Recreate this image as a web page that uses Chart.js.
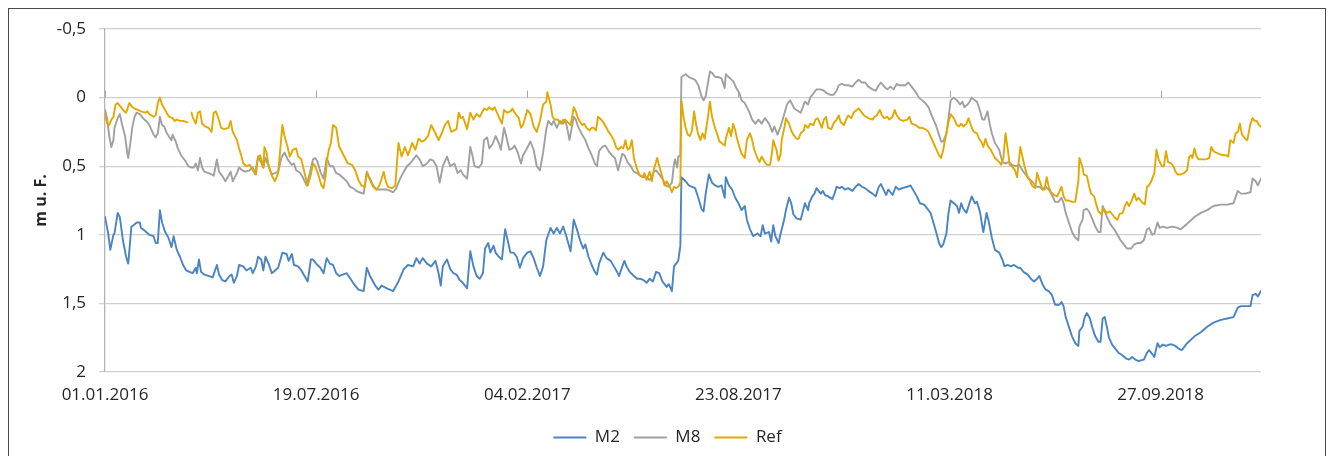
<!DOCTYPE html>
<html>
<head>
<meta charset="utf-8">
<script src="https://cdn.jsdelivr.net/npm/chart.js@4"></script>
<style>
  html, body { margin: 0; padding: 0; background: #fff; }
  #wrap { position: relative; width: 1329px; height: 456px; overflow: hidden; }
  #frame { position: absolute; left: 8px; top: 8px; width: 1316px; height: 470px; border: 1px solid #4a4a4a; pointer-events: none; }
  canvas { position: absolute; left: 0; top: 0; }
</style>
</head>
<body>
<div id="wrap">
  <canvas id="chart" width="1329" height="456"></canvas>
  <div id="frame"></div>
</div>
<script>
// x = days since 01.01.2016, y = value (m u. F.)
const tickDays = [0, 200, 400, 600, 800, 1000];
const tickLabels = ["01.01.2016", "19.07.2016", "04.02.2017", "23.08.2017", "11.03.2018", "27.09.2018"];
const yTicks = [-0.5, 0, 0.5, 1, 1.5, 2];

const m2Series = [
  [0,0.87],[3,0.99],[5,1.11],[8,1.00],[9,0.99],[12,0.84],[14,0.87],[17,1.04],[20,1.16],[22,1.21],
  [25,0.94],[27,0.93],[30,0.91],[33,0.91],[34,0.95],[36,0.96],[39,0.98],[42,1.00],[46,1.01],[48,1.06],
  [50,1.06],[52,0.82],[54,0.91],[57,0.98],[60,1.02],[63,1.09],[65,1.01],[68,1.11],[71,1.16],[74,1.22],
  [77,1.26],[80,1.27],[83,1.28],[86,1.24],[87,1.28],[89,1.18],[91,1.27],[94,1.29],[98,1.30],[102,1.31],
  [106,1.22],[108,1.29],[111,1.33],[114,1.34],[118,1.30],[120,1.29],[122,1.35],[125,1.30],[127,1.22],[131,1.23],
  [134,1.26],[138,1.24],[140,1.28],[143,1.23],[145,1.16],[148,1.18],[150,1.26],[152,1.16],[155,1.21],[158,1.28],
  [161,1.26],[164,1.24],[168,1.13],[172,1.14],[174,1.19],[177,1.14],[179,1.22],[183,1.23],[186,1.26],[189,1.30],
  [192,1.34],[195,1.18],[197,1.18],[200,1.21],[204,1.24],[207,1.28],[210,1.17],[213,1.21],[216,1.22],[219,1.28],
  [222,1.30],[229,1.28],[235,1.35],[240,1.40],[245,1.41],[248,1.24],[251,1.30],[256,1.37],[259,1.40],[262,1.37],
  [267,1.39],[273,1.41],[278,1.34],[283,1.25],[287,1.22],[292,1.23],[295,1.17],[298,1.21],[301,1.17],[305,1.21],
  [309,1.23],[313,1.19],[316,1.28],[318,1.37],[320,1.23],[324,1.18],[327,1.25],[330,1.28],[333,1.29],[336,1.33],
  [339,1.35],[343,1.39],[346,1.12],[349,1.23],[352,1.30],[355,1.32],[358,1.28],[360,1.10],[363,1.06],[365,1.13],
  [368,1.08],[370,1.13],[373,1.16],[376,1.18],[379,0.96],[382,1.06],[384,1.13],[387,1.13],[390,1.16],[393,1.24],
  [396,1.17],[400,1.13],[403,1.12],[406,1.17],[409,1.24],[412,1.30],[415,1.23],[418,1.04],[422,0.95],[425,0.99],
  [428,0.95],[431,0.99],[434,0.94],[437,1.01],[441,1.12],[444,0.89],[447,0.96],[450,1.04],[453,1.10],[455,1.07],
  [458,1.16],[461,1.22],[464,1.27],[466,1.29],[468,1.21],[472,1.13],[475,1.17],[479,1.19],[482,1.23],[485,1.27],
  [487,1.30],[490,1.23],[492,1.19],[494,1.23],[497,1.27],[501,1.30],[504,1.32],[507,1.32],[510,1.33],[513,1.35],
  [516,1.32],[519,1.34],[522,1.27],[525,1.28],[528,1.34],[532,1.38],[534,1.36],[537,1.41],[539,1.23],[541,1.21],
  [543,1.19],[545,1.08],[546,0.58],[550,0.61],[553,0.64],[556,0.65],[559,0.66],[562,0.73],[565,0.81],[567,0.83],
  [569,0.70],[572,0.56],[575,0.62],[578,0.64],[581,0.65],[584,0.64],[587,0.73],[588,0.58],[591,0.64],[594,0.67],
  [597,0.73],[600,0.77],[603,0.82],[606,0.79],[608,0.89],[611,0.96],[614,1.01],[618,0.99],[621,1.01],[623,0.93],
  [625,0.99],[629,0.98],[631,1.05],[633,0.93],[635,1.01],[638,1.06],[640,0.99],[643,0.90],[645,0.82],[648,0.73],
  [650,0.77],[652,0.85],[655,0.88],[659,0.89],[661,0.83],[663,0.77],[666,0.82],[667,0.77],[670,0.72],[672,0.70],
  [674,0.66],[678,0.70],[680,0.68],[682,0.71],[685,0.72],[689,0.74],[691,0.70],[693,0.65],[696,0.66],[698,0.65],
  [701,0.67],[704,0.66],[708,0.68],[711,0.65],[714,0.63],[717,0.65],[720,0.66],[723,0.68],[727,0.70],[730,0.72],
  [733,0.65],[735,0.63],[738,0.68],[740,0.71],[742,0.67],[746,0.71],[749,0.65],[752,0.67],[755,0.66],[760,0.65],
  [763,0.64],[766,0.68],[769,0.72],[772,0.77],[776,0.78],[779,0.81],[782,0.84],[785,0.92],[788,1.00],[790,1.06],
  [792,1.09],[794,1.07],[797,0.99],[799,0.84],[801,0.75],[804,0.77],[807,0.79],[809,0.84],[811,0.77],[813,0.81],
  [816,0.84],[818,0.79],[821,0.72],[824,0.77],[826,0.76],[829,0.84],[831,0.94],[832,0.98],[835,0.84],[837,0.90],
  [840,1.02],[843,1.11],[847,1.13],[850,1.18],[852,1.23],[855,1.22],[858,1.23],[861,1.22],[865,1.24],[867,1.24],
  [870,1.27],[874,1.29],[877,1.32],[880,1.34],[883,1.32],[885,1.30],[888,1.36],[891,1.40],[894,1.41],[897,1.44],
  [900,1.51],[904,1.51],[906,1.49],[908,1.52],[910,1.60],[913,1.67],[916,1.74],[919,1.79],[922,1.81],[923,1.70],
  [926,1.67],[928,1.60],[930,1.57],[933,1.61],[935,1.67],[938,1.74],[941,1.78],[943,1.78],[945,1.61],[947,1.60],
  [949,1.67],[951,1.75],[954,1.80],[957,1.83],[960,1.86],[964,1.88],[967,1.90],[970,1.91],[973,1.89],[976,1.91],
  [979,1.92],[984,1.91],[987,1.86],[989,1.84],[992,1.87],[994,1.89],[997,1.79],[999,1.82],[1002,1.80],[1005,1.81],
  [1008,1.80],[1011,1.80],[1014,1.81],[1017,1.83],[1020,1.84],[1025,1.79],[1032,1.74],[1038,1.71],[1044,1.67],[1050,1.64],
  [1057,1.62],[1063,1.61],[1069,1.60],[1073,1.53],[1076,1.52],[1080,1.52],[1085,1.52],[1087,1.44],[1090,1.43],[1092,1.45],
  [1095,1.41]
];

const m8Series = [
  [0,0.09],[2,0.15],[4,0.28],[6,0.36],[8,0.31],[9,0.22],[12,0.15],[14,0.12],[16,0.19],[19,0.28],
  [21,0.40],[22,0.44],[24,0.33],[26,0.21],[28,0.14],[30,0.11],[33,0.12],[36,0.15],[39,0.17],[42,0.20],
  [46,0.27],[48,0.29],[50,0.26],[52,0.14],[54,0.20],[56,0.21],[58,0.25],[61,0.29],[63,0.31],[64,0.27],
  [67,0.32],[69,0.37],[72,0.42],[76,0.46],[79,0.50],[82,0.51],[84,0.51],[86,0.48],[88,0.53],[90,0.44],
  [92,0.51],[94,0.54],[98,0.55],[101,0.56],[103,0.57],[106,0.45],[108,0.54],[111,0.57],[114,0.61],[117,0.57],
  [119,0.54],[121,0.61],[125,0.55],[127,0.51],[130,0.53],[133,0.54],[137,0.53],[140,0.51],[142,0.56],[145,0.43],
  [147,0.46],[150,0.51],[152,0.44],[155,0.50],[158,0.56],[161,0.55],[164,0.54],[167,0.44],[170,0.40],[173,0.45],
  [177,0.49],[179,0.48],[181,0.53],[185,0.55],[188,0.59],[191,0.64],[194,0.55],[197,0.45],[199,0.44],[201,0.46],
  [204,0.54],[207,0.59],[208,0.54],[210,0.44],[213,0.50],[216,0.50],[219,0.55],[222,0.56],[229,0.61],[232,0.65],
  [235,0.66],[238,0.68],[241,0.69],[245,0.70],[248,0.54],[251,0.59],[254,0.64],[257,0.67],[260,0.67],[263,0.67],
  [267,0.67],[270,0.68],[273,0.69],[276,0.66],[279,0.60],[283,0.54],[286,0.50],[289,0.48],[292,0.45],[295,0.42],
  [298,0.45],[301,0.50],[305,0.48],[308,0.45],[311,0.46],[314,0.50],[317,0.62],[320,0.50],[324,0.43],[327,0.50],
  [331,0.48],[334,0.55],[337,0.53],[339,0.56],[343,0.59],[346,0.36],[348,0.42],[350,0.50],[354,0.51],[357,0.48],
  [359,0.31],[362,0.29],[364,0.37],[367,0.34],[370,0.28],[373,0.33],[375,0.38],[378,0.22],[380,0.28],[383,0.38],
  [386,0.37],[388,0.35],[391,0.40],[394,0.48],[396,0.42],[399,0.38],[403,0.32],[406,0.38],[409,0.50],[412,0.53],
  [415,0.40],[418,0.23],[420,0.17],[423,0.20],[425,0.17],[428,0.22],[431,0.17],[434,0.19],[436,0.16],[438,0.23],
  [440,0.31],[444,0.14],[446,0.16],[448,0.21],[452,0.27],[455,0.31],[458,0.37],[461,0.42],[464,0.48],[466,0.50],
  [468,0.39],[471,0.36],[474,0.35],[477,0.39],[480,0.42],[483,0.44],[486,0.53],[490,0.41],[492,0.42],[495,0.47],
  [498,0.50],[501,0.54],[504,0.55],[507,0.57],[510,0.58],[513,0.58],[516,0.60],[520,0.54],[522,0.53],[524,0.55],
  [528,0.59],[531,0.64],[534,0.65],[537,0.62],[539,0.48],[540,0.45],[542,0.51],[543,0.43],[545,0.42],[546,-0.15],
  [550,-0.17],[553,-0.15],[556,-0.14],[559,-0.13],[562,-0.09],[565,-0.01],[567,0.02],[569,-0.01],[571,-0.10],[573,-0.19],
  [575,-0.18],[578,-0.15],[581,-0.15],[584,-0.14],[587,-0.07],[588,-0.17],[592,-0.14],[595,-0.12],[598,-0.07],[601,-0.03],
  [603,0.02],[606,0.04],[610,0.10],[613,0.16],[616,0.19],[619,0.16],[622,0.19],[625,0.15],[629,0.19],[632,0.25],
  [634,0.21],[637,0.27],[640,0.21],[643,0.13],[646,0.05],[649,0.02],[651,0.05],[653,0.08],[655,0.09],[659,0.11],
  [661,0.07],[663,0.03],[666,0.05],[668,0.00],[671,-0.03],[674,-0.06],[678,-0.06],[681,-0.05],[684,-0.03],[687,-0.02],
  [690,-0.02],[693,-0.05],[695,-0.09],[698,-0.10],[701,-0.09],[704,-0.09],[708,-0.08],[711,-0.11],[714,-0.13],[717,-0.11],
  [720,-0.11],[723,-0.08],[727,-0.06],[730,-0.05],[733,-0.09],[735,-0.11],[738,-0.08],[741,-0.06],[744,-0.08],[747,-0.06],
  [750,-0.10],[752,-0.09],[755,-0.09],[758,-0.09],[761,-0.11],[764,-0.08],[768,-0.04],[771,0.00],[774,0.02],[777,0.04],
  [780,0.07],[783,0.13],[787,0.20],[790,0.27],[792,0.32],[794,0.32],[797,0.26],[799,0.15],[801,0.02],[804,0.00],
  [807,0.02],[810,0.05],[812,0.03],[814,0.07],[817,0.05],[819,0.03],[821,0.00],[824,0.02],[826,0.03],[829,0.10],
  [831,0.16],[833,0.16],[836,0.10],[838,0.19],[840,0.26],[843,0.33],[847,0.38],[850,0.47],[853,0.48],[856,0.47],
  [859,0.49],[863,0.50],[866,0.49],[869,0.53],[872,0.56],[875,0.59],[878,0.61],[882,0.65],[885,0.65],[888,0.67],
  [891,0.65],[894,0.67],[897,0.71],[900,0.76],[903,0.76],[906,0.73],[908,0.77],[910,0.84],[913,0.91],[916,0.98],
  [919,1.02],[922,1.04],[923,0.94],[926,0.89],[927,0.82],[930,0.81],[932,0.83],[935,0.88],[938,0.94],[941,0.98],
  [943,0.98],[945,0.79],[946,0.81],[949,0.87],[953,0.93],[956,0.96],[959,1.00],[962,1.04],[965,1.07],[968,1.10],
  [972,1.10],[975,1.07],[978,1.06],[981,1.06],[984,1.04],[987,0.96],[989,0.95],[992,1.00],[994,0.99],[997,0.91],
  [999,0.95],[1002,0.94],[1006,0.95],[1011,0.94],[1016,0.95],[1019,0.96],[1025,0.92],[1032,0.87],[1038,0.84],[1044,0.82],
  [1050,0.79],[1057,0.78],[1063,0.78],[1069,0.77],[1073,0.68],[1076,0.70],[1080,0.70],[1085,0.69],[1087,0.59],[1090,0.61],
  [1092,0.64],[1095,0.59]
];

const refSeries = [
  [0,0.12],[2,0.19],[4,0.20],[6,0.16],[8,0.14],[10,0.05],[12,0.04],[15,0.07],[17,0.09],[20,0.11],
  [21,0.09],[23,0.04],[26,0.07],[28,0.08],[31,0.09],[34,0.10],[38,0.11],[40,0.10],[42,0.12],[46,0.14],
  [48,0.13],[50,0.04],[52,0.00],[54,0.05],[57,0.09],[59,0.12],[61,0.14],[64,0.15],[66,0.17],[68,0.16],
  [71,0.17],[74,0.17],[78,0.18],[80,null],[82,0.11],[83,0.14],[86,0.19],[88,0.11],[90,0.10],[92,0.19],
  [95,0.21],[98,0.22],[101,0.25],[103,0.11],[105,0.10],[107,0.14],[110,0.22],[113,0.23],[117,0.22],[119,0.17],
  [121,0.25],[125,0.31],[127,0.37],[129,0.42],[131,0.48],[134,0.50],[137,0.49],[140,0.53],[143,0.56],[145,0.43],
  [147,0.42],[150,0.51],[151,0.36],[153,0.40],[155,0.50],[158,0.57],[161,0.61],[164,0.55],[166,0.38],[168,0.20],
  [170,0.28],[173,0.36],[175,0.43],[178,0.38],[181,0.37],[183,0.43],[186,0.45],[189,0.55],[192,0.64],[195,0.56],
  [197,0.48],[199,0.50],[202,0.56],[205,0.64],[207,0.66],[209,0.57],[210,0.47],[212,0.38],[214,0.33],[216,0.20],
  [219,0.22],[221,0.32],[222,0.36],[230,0.48],[234,0.49],[237,0.53],[240,0.60],[243,0.64],[246,0.65],[248,0.55],
  [251,0.60],[254,0.65],[257,0.67],[260,0.64],[264,0.54],[266,0.61],[268,0.65],[272,0.66],[275,0.64],[278,0.33],
  [281,0.43],[284,0.36],[287,0.42],[291,0.33],[294,0.38],[297,0.30],[300,0.32],[303,0.31],[306,0.28],[309,0.20],
  [313,0.26],[316,0.31],[319,0.26],[322,0.20],[325,0.17],[328,0.25],[333,0.23],[335,0.11],[337,0.15],[339,0.14],
  [343,0.23],[346,0.11],[349,0.16],[352,0.12],[355,0.14],[357,0.11],[359,0.08],[362,0.09],[364,0.07],[367,0.09],
  [369,0.07],[373,0.14],[376,0.19],[378,0.09],[381,0.11],[384,0.10],[386,0.08],[388,0.11],[392,0.15],[394,0.22],
  [396,0.20],[400,0.09],[403,0.12],[406,0.21],[409,0.25],[412,0.17],[415,0.05],[418,0.03],[419,-0.04],[422,0.05],
  [424,0.14],[426,0.16],[429,0.16],[432,0.19],[434,0.16],[437,0.17],[441,0.20],[444,0.07],[446,0.10],[448,0.15],
  [452,0.20],[454,0.19],[456,0.22],[459,0.24],[461,0.22],[463,0.22],[465,0.24],[467,0.14],[470,0.16],[472,0.18],
  [475,0.22],[477,0.25],[479,0.27],[482,0.31],[484,0.36],[486,0.38],[489,0.36],[491,0.37],[493,0.31],[495,0.38],
  [497,0.37],[499,0.31],[501,0.44],[504,0.52],[506,0.56],[509,0.58],[511,0.55],[513,0.60],[516,0.54],[518,0.61],
  [520,0.52],[523,0.44],[525,0.50],[528,0.58],[530,0.64],[532,0.61],[535,0.65],[537,0.69],[539,0.65],[541,0.66],
  [543,0.65],[545,0.62],[546,0.02],[548,0.14],[550,0.22],[552,0.27],[554,0.28],[556,0.24],[558,0.10],[560,0.20],
  [562,0.27],[564,0.31],[566,0.26],[568,0.30],[571,0.15],[573,0.03],[575,0.14],[577,0.20],[580,0.27],[582,0.32],
  [584,0.33],[587,0.35],[588,0.30],[591,0.22],[593,0.28],[595,0.19],[597,0.24],[599,0.31],[601,0.36],[603,0.41],
  [606,0.44],[608,0.31],[611,0.26],[613,0.31],[615,0.38],[618,0.44],[620,0.47],[622,0.43],[625,0.47],[627,0.49],
  [630,0.49],[632,0.39],[633,0.31],[636,0.38],[638,0.46],[640,0.41],[641,0.31],[644,0.20],[645,0.15],[648,0.19],
  [650,0.24],[652,0.27],[655,0.30],[657,0.30],[659,0.26],[662,0.24],[663,0.20],[666,0.22],[668,0.19],[671,0.20],
  [673,0.16],[675,0.15],[678,0.20],[679,0.22],[681,0.16],[683,0.14],[685,0.22],[688,0.23],[690,0.19],[693,0.16],
  [695,0.13],[697,0.18],[700,0.20],[702,0.16],[704,0.13],[707,0.15],[709,0.11],[712,0.09],[714,0.08],[716,0.10],
  [719,0.13],[721,0.14],[723,0.15],[727,0.16],[729,0.14],[731,0.13],[734,0.09],[736,0.13],[738,0.15],[741,0.14],
  [743,0.16],[746,0.14],[748,0.09],[750,0.13],[753,0.16],[756,0.17],[760,0.16],[762,0.14],[764,0.19],[768,0.20],
  [771,0.22],[774,0.22],[777,0.23],[780,0.25],[783,0.30],[787,0.37],[790,0.42],[792,0.44],[794,0.38],[797,0.26],
  [799,0.18],[801,0.12],[804,0.15],[807,0.20],[809,0.21],[811,0.19],[813,0.21],[816,0.19],[818,0.15],[821,0.22],
  [823,0.25],[826,0.26],[828,0.30],[830,0.32],[832,0.36],[834,0.30],[836,0.35],[839,0.38],[841,0.41],[843,0.44],
  [847,0.47],[849,0.49],[851,0.44],[853,0.26],[855,0.37],[857,0.49],[859,0.50],[862,0.53],[864,0.58],[867,0.36],
  [869,0.43],[871,0.50],[874,0.58],[876,0.60],[878,0.64],[881,0.66],[883,0.55],[885,0.60],[888,0.67],[890,0.67],
  [892,0.58],[894,0.65],[896,0.69],[899,0.71],[902,0.72],[906,0.65],[908,0.72],[910,0.75],[913,0.75],[916,0.76],
  [919,0.76],[922,0.61],[923,0.44],[926,0.51],[927,0.56],[930,0.57],[932,0.64],[934,0.70],[937,0.72],[939,0.78],
  [941,0.83],[944,0.85],[946,0.81],[947,0.82],[949,0.84],[952,0.83],[954,0.85],[956,0.87],[959,0.89],[961,0.85],
  [964,0.84],[966,0.79],[968,0.76],[970,0.79],[972,0.76],[975,0.70],[977,0.75],[979,0.73],[982,0.76],[985,0.78],
  [987,0.65],[989,0.64],[991,0.61],[994,0.55],[996,0.38],[998,0.45],[1001,0.50],[1003,0.50],[1005,0.39],[1007,0.47],
  [1010,0.48],[1012,0.50],[1014,0.54],[1016,0.56],[1019,0.56],[1022,0.55],[1025,0.53],[1027,0.43],[1029,0.42],[1030,0.44],
  [1032,0.37],[1034,0.43],[1036,0.45],[1040,0.45],[1043,0.45],[1046,0.44],[1048,0.36],[1050,0.39],[1052,0.40],[1055,0.41],
  [1059,0.42],[1062,0.42],[1064,0.43],[1066,0.31],[1069,0.33],[1071,0.26],[1073,0.25],[1075,0.19],[1077,0.27],[1080,0.30],
  [1082,0.31],[1085,0.19],[1087,0.15],[1089,0.17],[1091,0.17],[1093,0.20],[1095,0.21]
];

const FONT = "'Open Sans', sans-serif";
const TEXT = "#262626";

function toPoints(series) {
  return series.map(p => ({ x: p[0], y: p[1] }));
}

// small tick marks where the date axis crosses the 0 line
const zeroAxisTicks = {
  id: "zeroAxisTicks",
  beforeDatasetsDraw(chart) {
    const { ctx, scales: { x, y } } = chart;
    const y0 = y.getPixelForValue(0);
    ctx.save();
    ctx.strokeStyle = "#a6a6a6";
    ctx.lineWidth = 1;
    tickDays.forEach(d => {
      const px = Math.round(x.getPixelForValue(d)) + 0.5;
      ctx.beginPath();
      ctx.moveTo(px, y0 - 7);
      ctx.lineTo(px, y0);
      ctx.stroke();
    });
    ctx.restore();
  }
};

// legend is centred on the whole frame, not on the area between paddings
const legendShift = {
  id: "legendShift",
  afterLayout(chart) {
    const lg = chart.legend;
    if (!lg) return;
    lg.left += 27;
    lg.right += 27;
  }
};

new Chart(document.getElementById("chart"), {
  type: "line",
  data: {
    datasets: [
      { label: "M2", data: toPoints(m2Series), borderColor: "#4a84c1", order: 2 },
      { label: "M8", data: toPoints(m8Series), borderColor: "#a0a0a0", order: 1 },
      { label: "Ref", data: toPoints(refSeries), borderColor: "#e3a800", order: 0 }
    ]
  },
  options: {
    responsive: false,
    animation: false,
    parsing: false,
    normalized: true,
    datasets: {
      line: {
        borderWidth: 1.9,
        pointRadius: 0,
        tension: 0,
        fill: false,
        spanGaps: false,
        borderJoinStyle: "round",
        borderCapStyle: "round"
      }
    },
    layout: { padding: { left: 20, right: 68, top: 29, bottom: 0 } },
    plugins: {
      tooltip: { enabled: false },
      legend: {
        position: "bottom",
        labels: {
          usePointStyle: true,
          pointStyle: "line",
          pointStyleWidth: 33,
          padding: 14,
          color: TEXT,
          font: { family: FONT, size: 17 },
          sort: (a, b) => a.datasetIndex - b.datasetIndex
        }
      }
    },
    scales: {
      x: {
        type: "linear",
        min: 0,
        max: 1095,
        grid: { display: false, drawTicks: false },
        border: { display: false },
        afterBuildTicks: s => { s.ticks = tickDays.map(v => ({ value: v })); },
        afterFit: s => { s.height = 43; },
        ticks: {
          padding: 13,
          maxRotation: 0,
          autoSkip: false,
          color: TEXT,
          font: { family: FONT, size: 17 },
          callback: (v, i) => tickLabels[i]
        }
      },
      y: {
        reverse: true,
        min: -0.5,
        max: 2,
        afterBuildTicks: s => { s.ticks = yTicks.map(v => ({ value: v })); },
        afterFit: s => { s.width = 85; },
        grid: { color: "#d0d0d0", lineWidth: 1.3, tickLength: 6 },
        border: { color: "#b4b4b4", width: 1.3 },
        ticks: {
          padding: 13,
          color: TEXT,
          font: { family: FONT, size: 17 },
          callback: v => String(v).replace(".", ",")
        },
        title: {
          display: true,
          text: "m u. F.",
          color: TEXT,
          font: { family: FONT, size: 16, weight: "bold" },
          padding: { top: 12, bottom: 0 }
        }
      }
    }
  },
  plugins: [zeroAxisTicks, legendShift]
});
</script>
</body>
</html>
